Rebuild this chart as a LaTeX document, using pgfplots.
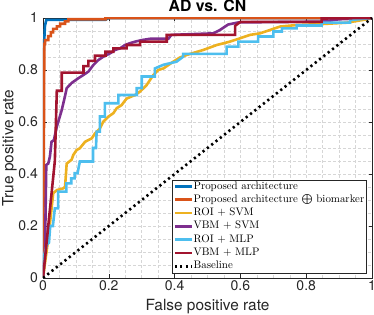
\documentclass[border=0pt]{standalone}
\usepackage{fontspec}
\usepackage{pgfplots}
\pgfplotsset{compat=1.18}
\newfontfamily\hel{TeX Gyre Heros}
\definecolor{mblue}{rgb}{0,0.447,0.741}
\definecolor{morange}{rgb}{0.85,0.325,0.098}
\definecolor{myellow}{rgb}{0.929,0.694,0.125}
\definecolor{mpurple}{rgb}{0.494,0.184,0.556}
\definecolor{mcyan}{rgb}{0.301,0.745,0.933}
\definecolor{mred}{rgb}{0.635,0.078,0.184}
\begin{document}
\begin{tikzpicture}
\begin{axis}[
  scale only axis, width=329pt, height=260pt,
  xmin=0, xmax=1, ymin=0, ymax=1,
  xtick={0,0.2,...,1}, ytick={0,0.2,...,1},
  minor tick num=3,
  grid=both,
  major grid style={black!16, dash pattern=on 3pt off 2pt, line width=0.5pt},
  minor grid style={black!16, dash pattern=on 3pt off 2pt, line width=0.5pt},
  major tick length=3.5pt, minor tick length=0pt,
  tick style={black!85, line width=0.6pt},
  axis line style={black!85, line width=0.6pt},
  /pgf/number format/assume math mode=true,
  ticklabel style={font=\hel\fontsize{14}{16}\selectfont, text=black!85},
  xticklabel style={inner sep=2.5pt},
  yticklabel style={inner sep=3pt, xshift=-2pt},
  xlabel={False positive rate},
  ylabel={True positive rate},
  xlabel style={font=\hel\fontsize{15.4}{17}\selectfont, text=black!85, at={(axis description cs:0.5,-0.125)}, anchor=base},
  ylabel style={font=\hel\fontsize{15.4}{17}\selectfont, text=black!85, at={(axis description cs:-0.0897,0.5)}, anchor=base},
  title={AD vs. CN},
  title style={font=\hel\bfseries\fontsize{15.8}{17}\selectfont, at={(axis description cs:0.5,1)}, anchor=base},
  legend cell align=left,
  legend image code/.code={\draw[#1] (0pt,0pt) -- (17pt,0pt);},
  legend style={at={(axis description cs:0.982,0.019)}, anchor=south east,
    draw=black!85, line width=0.5pt, fill=white, inner sep=1pt,
    font=\fontsize{10.9}{12}\selectfont, row sep=2.1pt,
    nodes={inner sep=0.5pt, text height=7.7pt, text depth=2.5pt},
    /tikz/every even column/.append style={column sep=0pt}},
  every axis plot/.append style={line width=2.6pt, line join=miter},
]
\addplot[mblue] coordinates {(0,0)(0.001,0.6)(0.002,0.87)(0.006,0.97)(0.01,0.993)(0.19,0.993)(0.2,1)(1,1)};
\addplot[morange] coordinates {(0,0)(0.003,0.6)(0.004,0.9)(0.006,0.9)(0.006,0.915)(0.016,0.915)(0.016,0.93)(0.024,0.93)(0.024,0.945)(0.031,0.945)(0.031,0.958)(0.042,0.958)(0.042,0.968)(0.052,0.968)(0.052,0.978)(0.067,0.978)(0.067,0.987)(0.077,0.987)(0.077,0.995)(0.19,0.995)(0.19,1)(1,1)};
\addplot[myellow] coordinates {(0,0)(0.016,0.15)(0.031,0.326)(0.042,0.338)(0.062,0.345)(0.067,0.351)(0.072,0.44)(0.087,0.455)(0.092,0.473)(0.102,0.492)(0.112,0.499)(0.128,0.524)(0.148,0.537)(0.158,0.556)(0.173,0.575)(0.183,0.601)(0.199,0.621)(0.214,0.634)(0.224,0.653)(0.239,0.665)(0.254,0.69)(0.28,0.704)(0.295,0.717)(0.315,0.742)(0.335,0.78)(0.35,0.8)(0.366,0.806)(0.396,0.832)(0.416,0.848)(0.437,0.858)(0.487,0.877)(0.528,0.896)(0.568,0.909)(0.599,0.922)(0.629,0.935)(0.66,0.941)(0.69,0.954)(0.72,0.967)(0.771,0.973)(0.852,0.977)(0.923,0.982)(0.984,0.995)(1,1)};
\addplot[mpurple] coordinates {(0,0)(0.006,0.1)(0.01,0.435)(0.016,0.44)(0.021,0.467)(0.026,0.524)(0.033,0.53)(0.042,0.582)(0.057,0.646)(0.067,0.7)(0.072,0.73)(0.087,0.75)(0.107,0.768)(0.123,0.781)(0.138,0.794)(0.153,0.819)(0.168,0.838)(0.183,0.851)(0.204,0.864)(0.219,0.877)(0.234,0.883)(0.249,0.896)(0.264,0.903)(0.28,0.909)(0.3,0.915)(0.325,0.92)(0.381,0.92)(0.39,0.935)(0.518,0.941)(0.538,0.954)(0.563,0.975)(0.594,0.983)(0.85,0.986)(0.9,0.995)(1,1)};
\addplot[mcyan] coordinates {(0,0)(0,0.07)(0.006,0.1)(0.012,0.13)(0.018,0.135)(0.022,0.2)(0.03,0.2)(0.036,0.268)(0.046,0.268)(0.046,0.332)(0.071,0.332)(0.071,0.364)(0.086,0.364)(0.086,0.383)(0.096,0.383)(0.096,0.403)(0.105,0.403)(0.112,0.448)(0.152,0.448)(0.152,0.5)(0.161,0.5)(0.163,0.563)(0.173,0.563)(0.173,0.621)(0.188,0.621)(0.188,0.672)(0.229,0.672)(0.229,0.704)(0.285,0.704)(0.285,0.73)(0.3,0.73)(0.3,0.775)(0.34,0.775)(0.34,0.806)(0.366,0.82)(0.406,0.832)(0.426,0.851)(0.426,0.862)(0.558,0.862)(0.558,0.89)(0.594,0.89)(0.594,0.909)(0.654,0.909)(0.654,0.929)(0.7,0.929)(0.7,0.948)(0.726,0.948)(0.726,0.96)(0.771,0.96)(0.771,0.971)(0.847,0.971)(0.847,0.982)(0.933,0.982)(0.933,0.992)(1,1)};
\addplot[mred] coordinates {(0,0)(0.036,0.45)(0.042,0.72)(0.057,0.72)(0.057,0.79)(0.123,0.79)(0.123,0.815)(0.138,0.815)(0.138,0.835)(0.158,0.835)(0.158,0.855)(0.19,0.855)(0.19,0.87)(0.214,0.87)(0.214,0.883)(0.254,0.883)(0.254,0.896)(0.295,0.896)(0.295,0.909)(0.376,0.909)(0.376,0.935)(0.584,0.935)(0.584,0.97)(0.6,0.985)(0.847,0.985)(0.847,0.998)(1,1)};
\addplot[black, dash pattern=on 2.2pt off 3.3pt] coordinates {(0,0)(1,1)};
\legend{Proposed architecture, Proposed architecture $\bigoplus$ biomarker, ROI $+$ SVM, VBM $+$ SVM, ROI $+$ MLP, VBM $+$ MLP, Baseline}
\end{axis}
\pgfresetboundingbox
\path (-43pt,-37pt) rectangle (331pt,278pt);
\end{tikzpicture}
\end{document}
